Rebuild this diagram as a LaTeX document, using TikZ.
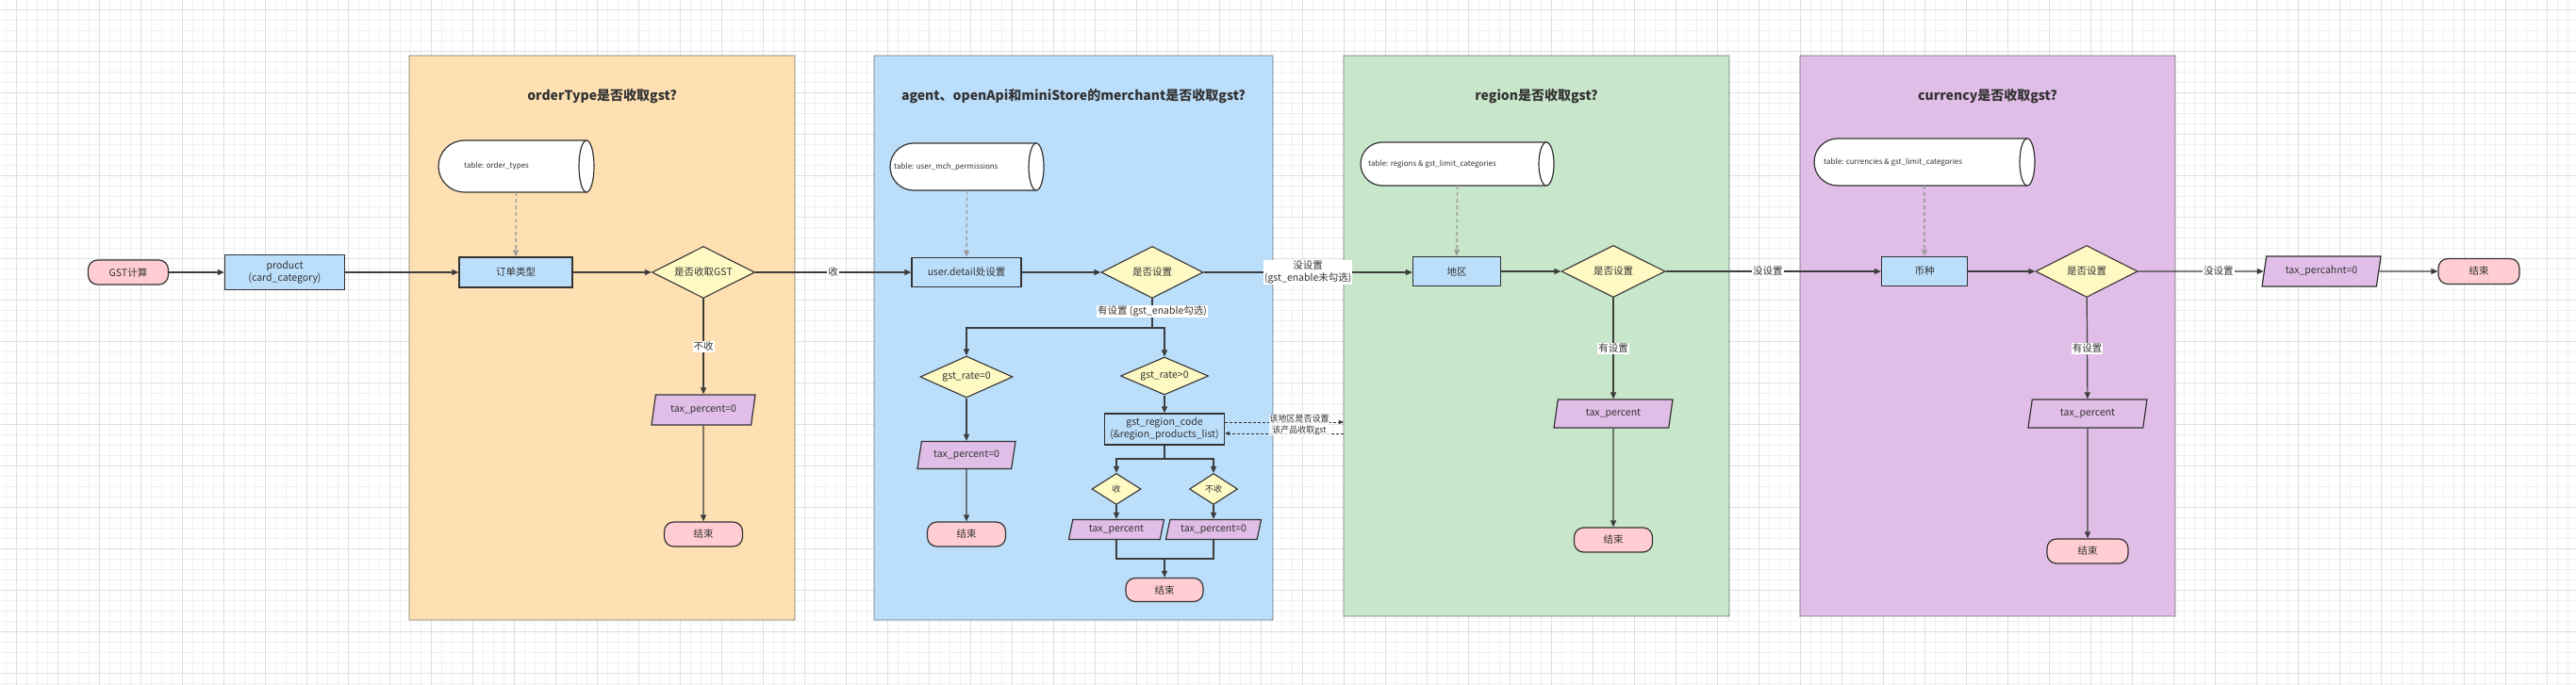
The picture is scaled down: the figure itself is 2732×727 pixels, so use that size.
\documentclass[tikz,border=0pt]{standalone}
\usepackage{fontspec}
\setmainfont{Noto Sans CJK SC}
\usetikzlibrary{shapes.geometric,arrows.meta,calc}
\definecolor{gridmin}{HTML}{F0F0F0}
\definecolor{gridmaj}{HTML}{E0E0E0}
\definecolor{orangec}{HTML}{FFE0B2}
\definecolor{bluec}{HTML}{BBDEFB}
\definecolor{greenc}{HTML}{C8E6C9}
\definecolor{purc}{HTML}{E1BEE7}
\definecolor{yelc}{HTML}{FFF9C4}
\definecolor{pinkc}{HTML}{FFCDD2}
\definecolor{txtc}{HTML}{333333}
\definecolor{bdc}{HTML}{333333}
\definecolor{lnc}{HTML}{3D3D3D}
\definecolor{grayc}{HTML}{9E9E9E}
\newcommand\pipeshape[4]{%
  \pgfmathsetmacro\ry{(#4-#2)/2}%
  \pgfmathsetmacro\rc{#3-8}%
  \pgfmathsetmacro\lc{#1+\ry}%
  \pgfmathsetmacro\my{(#2+#4)/2}%
  \draw[pipe] (\rc,#2) -- (\lc,#2) arc[start angle=270,end angle=90,radius=\ry] -- (\rc,#4);
  \draw[pipe] (\rc,\my) ellipse[x radius=8,y radius=\ry];
}
\begin{document}
\begin{tikzpicture}[x=1pt,y=-1pt,
  every node/.style={text=txtc, font=\fontsize{10.5}{13}\selectfont},
  base/.style={draw=bdc, line width=1.2pt, inner sep=2pt, align=center},
  termbox/.style={base, rectangle, rounded corners=10pt, fill=pinkc},
  procbox/.style={base, rectangle, fill=bluec},
  decbox/.style={base, diamond, aspect=2, fill=yelc, inner sep=0pt, line width=1.1pt},
  iobox/.style={base, trapezium, trapezium left angle=70, trapezium right angle=110, trapezium stretches body, fill=purc, inner sep=1pt},
  cluster/.style={draw=black!80, line width=1.1pt, dash pattern=on 0pt off 2pt, line cap=round, inner sep=0pt},
  titlec/.style={font=\bfseries\fontsize{14}{16}\selectfont},
  pipe/.style={draw=bdc, line width=1.2pt, fill=white},
  cyltext/.style={font=\fontsize{8}{10}\selectfont, anchor=west, inner sep=0pt},
  ghost/.style={inner sep=0pt, draw=none},
  arr/.style={draw=lnc, line width=1.2pt, -{Triangle[length=7pt,width=6pt]}},
  plain/.style={draw=lnc, line width=1.2pt},
  dbarr/.style={draw=grayc, line width=1.4pt, dash pattern=on 4pt off 3pt, -{Triangle[length=7pt,width=6pt]}},
  blkdash/.style={draw=bdc, line width=0.8pt, dash pattern=on 3pt off 2pt, -{Triangle[length=5pt,width=4pt]}},
  elabel/.style={fill=white, inner sep=1pt, align=center},
  smlabel/.style={font=\fontsize{9}{12}\selectfont, fill=white, fill opacity=0.75, text opacity=1, inner sep=0.5pt, align=center}
]
\path[use as bounding box, fill=white] (0,0) rectangle (2732,727);
% grid
\foreach \i in {0,...,248} \draw[gridmin, line width=0.7pt] ({6.7+11*\i},0) -- ({6.7+11*\i},727);
\foreach \j in {0,...,66} \draw[gridmin, line width=0.7pt] (0,{-1+11*\j}) -- (2732,{-1+11*\j});
\foreach \i in {0,...,62} \draw[gridmaj, line width=0.8pt] ({17.7+44*\i},0) -- ({17.7+44*\i},727);
\foreach \j in {0,...,16} \draw[gridmaj, line width=0.8pt] (0,{10+44*\j}) -- (2732,{10+44*\j});

% clusters
\node[cluster, fill=orangec, minimum width=409pt, minimum height=599pt] (k1) at (638.5,358.5) {};
\node[cluster, fill=bluec, minimum width=423pt, minimum height=599pt] (k2) at (1138.5,358.5) {};
\node[cluster, fill=greenc, minimum width=409pt, minimum height=595pt] (k3) at (1629.5,356.5) {};
\node[cluster, fill=purc, minimum width=398pt, minimum height=595pt] (k4) at (2108,356.5) {};
\node[titlec] (t1) at (638.5,102) {orderType是否收取gst?};
\node[titlec] (t2) at (1138.5,102) {agent、openApi和miniStore的merchant是否收取gst?};
\node[titlec] (t3) at (1629.5,102) {region是否收取gst?};
\node[titlec] (t4) at (2108,102) {currency是否收取gst?};

% pipes
\pipeshape{465}{149}{630}{204}
\node[ghost, minimum width=165pt, minimum height=55pt] (cy1) at (547.5,176.5) {};
\node[cyltext] (cy1t) at (492,176.5) {table: order\_types};
\pipeshape{944}{152}{1107}{202}
\node[ghost, minimum width=163pt, minimum height=50pt] (cy2) at (1025.5,177) {};
\node[cyltext] (cy2t) at (948,177) {table: user\_mch\_permissions};
\pipeshape{1443}{151}{1648}{197}
\node[ghost, minimum width=205pt, minimum height=46pt] (cy3) at (1545.5,174) {};
\node[cyltext] (cy3t) at (1451,174) {table: regions \& gst\_limit\_categories};
\pipeshape{1924}{147}{2158}{197}
\node[ghost, minimum width=234pt, minimum height=50pt] (cy4) at (2041,172) {};
\node[cyltext] (cy4t) at (1934,172) {table: currencies \& gst\_limit\_categories};

% main row
\node[termbox, minimum width=85pt, minimum height=26pt] (st) at (136,289) {GST计算};
\node[procbox, minimum width=127pt, minimum height=37pt] (pr) at (302,289) {product\\(card\_category)};
\node[procbox, minimum width=120pt, minimum height=32pt] (od) at (547,289) {订单类型};
\node[decbox, minimum width=109pt, minimum height=55pt] (d1) at (746,289) {是否收取GST};
\node[iobox, minimum width=110pt, minimum height=32pt] (tp1) at (746,435) {tax\_percent=0};
\node[termbox, minimum width=83pt, minimum height=26pt] (e1) at (746,567) {结束};

\node[procbox, minimum width=116pt, minimum height=31pt] (ud) at (1025,289) {user.detail处设置};
\node[decbox, minimum width=108pt, minimum height=55pt] (d2) at (1222,289) {是否设置};
\node[decbox, minimum width=98pt, minimum height=44pt] (g0) at (1025,400) {gst\_rate=0};
\node[decbox, minimum width=93pt, minimum height=40pt] (g1) at (1235,399) {gst\_rate>0};
\node[iobox, minimum width=104pt, minimum height=29pt] (tp2) at (1025,483) {tax\_percent=0};
\node[termbox, minimum width=83pt, minimum height=26pt] (e2) at (1025,567) {结束};
\node[procbox, minimum width=127pt, minimum height=33pt] (grc) at (1235,455.5) {gst\_region\_code\\(\&region\_products\_list)};
\node[decbox, minimum width=52pt, minimum height=33pt, font=\fontsize{9}{11}\selectfont] (ds) at (1184,519) {收};
\node[decbox, minimum width=51pt, minimum height=33pt, font=\fontsize{9}{11}\selectfont] (dn) at (1287,519) {不收};
\node[iobox, minimum width=101pt, minimum height=21pt] (tp3) at (1184,562) {tax\_percent};
\node[iobox, minimum width=101pt, minimum height=21pt] (tp4) at (1287,562) {tax\_percent=0};
\node[termbox, minimum width=82pt, minimum height=25pt] (e3) at (1235,626) {结束};

\node[procbox, minimum width=93pt, minimum height=31pt] (rg) at (1545,288) {地区};
\node[decbox, minimum width=110pt, minimum height=55pt] (d3) at (1711,288) {是否设置};
\node[iobox, minimum width=126pt, minimum height=30pt] (tp5) at (1711,439) {tax\_percent};
\node[termbox, minimum width=83pt, minimum height=26pt] (e4) at (1711,573) {结束};

\node[procbox, minimum width=91pt, minimum height=31pt] (cu) at (2041,288) {币种};
\node[decbox, minimum width=108pt, minimum height=55pt] (d4) at (2213,288) {是否设置};
\node[iobox, minimum width=126pt, minimum height=30pt] (tp6) at (2214,439) {tax\_percent};
\node[termbox, minimum width=86pt, minimum height=26pt] (e5) at (2214,585) {结束};

\node[iobox, minimum width=126pt, minimum height=32pt] (tp7) at (2462,288) {tax\_percahnt=0};
\node[termbox, minimum width=86pt, minimum height=27pt] (e6) at (2629,288) {结束};

% dashed from tables
\draw[dbarr] (cy1.south) -- (od.north);
\draw[dbarr] (cy2.south) -- (ud.north);
\draw[dbarr] (cy3.south) -- (rg.north);
\draw[dbarr] (cy4.south) -- (cu.north);

% connectors
\draw[arr] (st) -- (pr);
\draw[arr] (pr.east) -- (pr.east -| od.west);
\draw[arr] (od) -- (d1);
\draw[arr] (d1) -- node[elabel] {收} (ud);
\draw[arr] (d1) -- node[elabel] {不收} (tp1);
\draw[arr] (tp1) -- (e1);

\draw[arr] (ud) -- (d2);
\coordinate (b1) at (1222,348);
\draw[plain] (d2.south) -- node[elabel, pos=0.43] {有设置 (gst\_enable勾选)} (b1);
\draw[arr] (b1) -| (g0.north);
\draw[arr] (b1) -| (g1.north);
\draw[arr] (g0) -- (tp2);
\draw[arr] (tp2) -- (e2);
\draw[arr] (g1) -- (grc);
\coordinate (b2) at (1235,487);
\draw[plain] (grc.south) -- (b2);
\draw[arr] (b2) -| (ds.north);
\draw[arr] (b2) -| (dn.north);
\draw[arr] (ds) -- (tp3);
\draw[arr] (dn) -- (tp4);
\coordinate (m1) at (1235,593);
\draw[plain] (tp3.south) |- (m1);
\draw[plain] (tp4.south) |- (m1);
\draw[arr] (m1) -- (e3.north);

\coordinate (gin) at (1425,448);
\coordinate (gout) at (1425,460);
\draw[blkdash] (grc.east |- gin) -- (gin);
\draw[blkdash] (gout) -- (grc.east |- gout);
\node[smlabel] (lq) at (1378,451) {该地区是否设置\\该产品收取gst};

\draw[arr] (d2.east) -- node[elabel] {没设置\\(gst\_enable未勾选)} (d2.east -| rg.west);
\draw[arr] (rg) -- (d3);
\draw[arr] (d3) -- node[elabel, pos=0.474] {没设置} (cu);
\draw[arr] (d3) -- node[elabel] {有设置} (tp5);
\draw[arr] (tp5) -- (e4);

\draw[arr] (cu) -- (d4);
\draw[arr] (d4) -- node[elabel, pos=0.64] {没设置} (tp7);
\draw[arr] (d4) -- node[elabel] {有设置} (tp6);
\draw[arr] (tp6) -- (e5);
\draw[arr] (tp7) -- (e6);
\end{tikzpicture}
\end{document}
